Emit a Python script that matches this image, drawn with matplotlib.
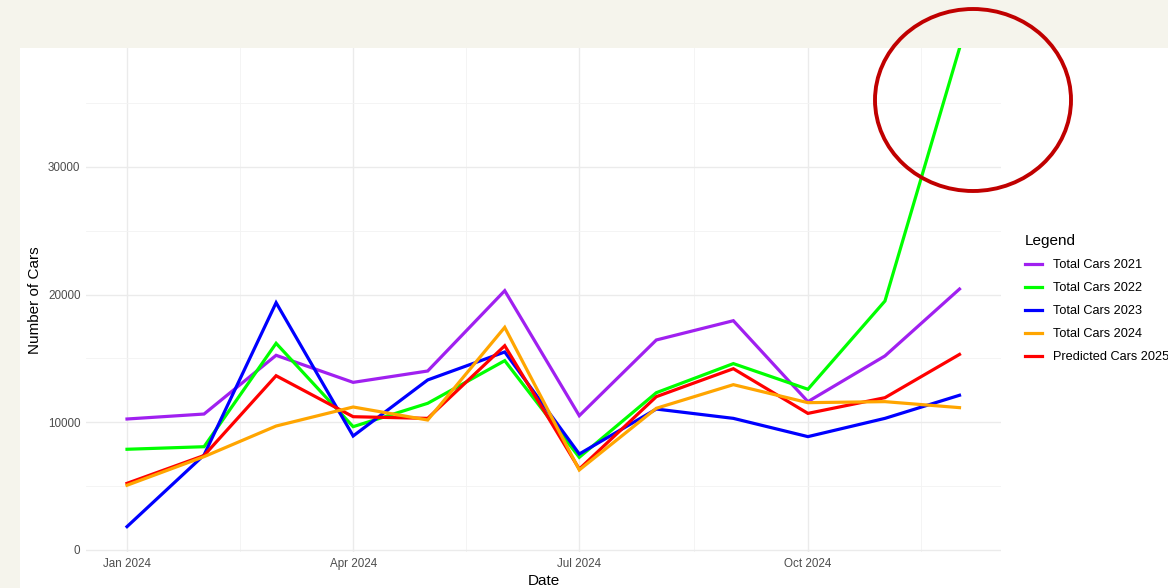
import numpy as np
import pandas as pd
import matplotlib
matplotlib.use('Agg')
import matplotlib.pyplot as plt
import matplotlib.dates as mdates
from matplotlib.patches import Rectangle, Ellipse

plt.rcParams['font.family'] = ['Liberation Sans', 'DejaVu Sans']

# monthly data
months = pd.to_datetime(['2024-01-01', '2024-02-01', '2024-03-01', '2024-04-01',
                         '2024-05-01', '2024-06-01', '2024-07-01', '2024-08-01',
                         '2024-09-01', '2024-10-01', '2024-11-01', '2024-12-01'])
cars_2021 = [10260, 10650, 15250, 13130, 14020, 20310, 10520, 16450, 17960, 11620, 15200, 20440]
cars_2022 = [7890, 8090, 16190, 9660, 11490, 14830, 7260, 12320, 14600, 12590, 19500, 39300]
cars_2023 = [1830, 7440, 19370, 8930, 13320, 15510, 7520, 11040, 10310, 8880, 10310, 12120]
cars_2024 = [5070, 7310, 9710, 11200, 10180, 17440, 6270, 11100, 12950, 11540, 11620, 11150]
pred_2025 = [5220, 7400, 13650, 10440, 10310, 16000, 6340, 12010, 14200, 10700, 11930, 15320]

series = [
    ('Total Cars 2021', cars_2021, '#a020f0'),
    ('Total Cars 2022', cars_2022, '#00ff00'),
    ('Total Cars 2023', cars_2023, '#0000ff'),
    ('Predicted Cars 2025', pred_2025, '#ff0000'),
    ('Total Cars 2024', cars_2024, '#ffa500'),
]
legend_order = ['Total Cars 2021', 'Total Cars 2022', 'Total Cars 2023',
                'Total Cars 2024', 'Predicted Cars 2025']

W, H = 1168, 588
fig = plt.figure(figsize=(W / 100, H / 100), dpi=100, facecolor='#f5f4ec')
fig.patches.append(Rectangle((20 / W, 0), 1, 1 - 48 / H, transform=fig.transFigure,
                             facecolor='white', edgecolor='none', zorder=-1))

ax = fig.add_axes([86 / W, (H - 552) / H, (1001 - 86) / W, 504 / H])
ax.set_facecolor('white')

lines = {}
for name, vals, col in series:
    l, = ax.plot(months, vals, color=col, linewidth=2.3, label=name,
                 solid_joinstyle='miter', clip_on=True)
    lines[name] = l

start = mdates.date2num(pd.Timestamp('2024-01-01'))
ax.set_xlim(start - 16.5, start + 351.7)
ax.set_ylim(-157, 39320)

major = pd.to_datetime(['2024-01-01', '2024-04-01', '2024-07-01', '2024-10-01'])
major_num = mdates.date2num(major)
minor_num = (major_num[:-1] + major_num[1:]) / 2
minor_num = np.append(minor_num, major_num[-1] + (major_num[1] - major_num[0]) / 2)
ax.set_xticks(major_num)
ax.set_xticklabels([d.strftime('%b %Y') for d in major])
ax.set_xticks(minor_num, minor=True)
ax.set_yticks([0, 10000, 20000, 30000])
ax.set_yticklabels(['0', '10000', '20000', '30000'])
ax.set_yticks([5000, 15000, 25000, 35000], minor=True)

ax.grid(True, which='major', color='#ebebeb', linewidth=1.0)
ax.grid(True, which='minor', color='#f3f3f3', linewidth=0.6)
ax.set_axisbelow(True)
for s in ax.spines.values():
    s.set_visible(False)
ax.tick_params(which='both', length=0)
ax.tick_params(axis='both', labelsize=8.4, labelcolor='#4d4d4d', pad=4)

ax.set_xlabel('Date', fontsize=11, labelpad=3)
ax.set_ylabel('Number of Cars', fontsize=11, labelpad=4)

leg = ax.legend([lines[n] for n in legend_order], legend_order,
                loc='upper left', bbox_to_anchor=(1013 / W, 1 - 223 / H),
                bbox_transform=fig.transFigure, frameon=False, title='Legend',
                fontsize=9.2, title_fontsize=11, handlelength=1.4,
                labelspacing=0.86, handletextpad=0.8, alignment='left')

# red circle around the jump
fig.patches.append(Ellipse((973 / W, 1 - 100 / H), 196 / W, 182 / H,
                           transform=fig.transFigure, fill=False,
                           edgecolor='#c00000', linewidth=2.8, zorder=5))

fig.savefig('out.png', dpi=100, facecolor=fig.get_facecolor())
